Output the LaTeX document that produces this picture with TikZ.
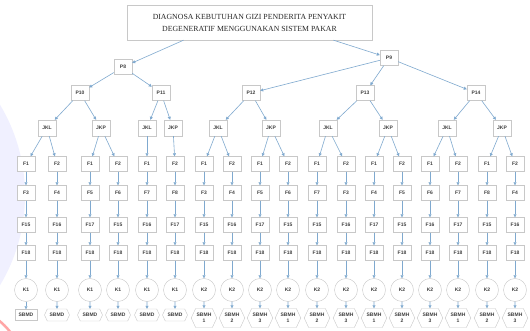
\documentclass[tikz,border=0pt]{standalone}
\usepackage{fontspec}
\setmainfont{Liberation Serif}
\newfontfamily\nodefont{Liberation Sans}
\usetikzlibrary{arrows.meta,shapes.symbols}
\definecolor{arrowblue}{HTML}{7FA9CF}
\definecolor{boxline}{HTML}{C8C8C8}
\begin{document}
\begin{tikzpicture}[x=1pt,y=-1pt,
  every node/.style={font=\nodefont\bfseries\fontsize{5}{5.6}\selectfont, text=black!75},
  box/.style={draw=boxline, fill=white, minimum width=18pt, minimum height=15pt, inner sep=1pt},
  kcirc/.style={draw=boxline, fill=white, circle, minimum size=23pt, inner sep=0pt},
  hexa/.style={draw=boxline, fill=white, signal, signal to=east and west, signal pointer angle=130,
    minimum width=25pt, minimum height=12pt, inner sep=1pt, align=center},
  link/.style={draw=arrowblue, line width=0.6pt, -{Triangle[length=3pt,width=3pt]}},
]
\useasboundingbox (0,0) rectangle (530,331);
\fill[white] (0,0) rectangle (530,331);
% faint watermark on the left edge
\begin{scope}
\clip (0,0) rectangle (530,331);
\fill[blue!6] (-150,195) circle (175pt);
\draw[red!35, line width=2.5pt] (-45,375) circle (70pt);
\end{scope}

% title
\node[draw=boxline, fill=white, minimum width=245pt, minimum height=35pt, align=center,
  font=\rmfamily\fontsize{7.8}{12}\selectfont, text=black!85] (title) at (249.5,22.5)
  {DIAGNOSA KEBUTUHAN GIZI PENDERITA PENYAKIT\\DEGENERATIF MENGGUNAKAN SISTEM PAKAR};

% upper levels
\node[box] (P8) at (123,67) {P8};
\node[box] (P9) at (389,58) {P9};
\node[box] (P10) at (80,93) {P10};
\node[box] (P11) at (161,93) {P11};
\node[box] (P12) at (251,93) {P12};
\node[box] (P13) at (365,93) {P13};
\node[box] (P14) at (476,93) {P14};

\draw[link] ([xshift=-66pt]title.south) -- (P8);
\draw[link] ([xshift=84pt]title.south) -- (P9);
\foreach \a/\b in {P8/P10,P8/P11,P9/P12,P9/P13,P9/P14}
  \draw[link] (\a) -- (\b);

% gender level
\foreach \n/\x/\t/\p in {j1/47/JKL/P10, j2/101/JKP/P10, j3/147/JKL/P11, j4/173/JKP/P11,
  j5/218/JKL/P12, j6/271/JKP/P12, j7/328/JKL/P13, j8/388/JKP/P13, j9/447/JKL/P14, j10/502/JKP/P14}{
  \node[box, minimum height=16pt] (\n) at (\x,128) {\t};
  \draw[link] (\p) -- (\n);
}

% rule chains
\foreach \i/\x/\fa/\fb/\fc/\k/\sb/\p in {
  1/26/F1/F3/F15/K1/SBMD/j1, 2/57/F2/F4/F16/K1/SBMD/j1,
  3/90/F1/F5/F17/K1/SBMD/j2, 4/118/F2/F6/F15/K1/SBMD/j2,
  5/147/F1/F7/F16/K1/SBMD/j3, 6/175/F2/F8/F17/K1/SBMD/j4,
  7/204/F1/F3/F15/K2/{SBMH\\1}/j5, 8/232/F2/F4/F16/K2/{SBMH\\2}/j5,
  9/260/F1/F5/F17/K2/{SBMH\\3}/j6, 10/288/F2/F6/F15/K2/{SBMH\\1}/j6,
  11/317/F1/F7/F15/K2/{SBMH\\2}/j7, 12/346/F2/F3/F16/K2/{SBMH\\3}/j7,
  13/374/F1/F4/F17/K2/{SBMH\\1}/j8, 14/402/F2/F5/F15/K2/{SBMH\\2}/j8,
  15/430/F1/F6/F16/K2/{SBMH\\3}/j9, 16/458/F2/F7/F17/K2/{SBMH\\1}/j9,
  17/487/F1/F8/F15/K2/{SBMH\\2}/j10, 18/515/F2/F4/F16/K2/{SBMH\\3}/j10}{
  \node[box] (a\i) at (\x,164) {\fa};
  \node[box] (b\i) at (\x,193) {\fb};
  \node[box] (d\i) at (\x,225) {\fc};
  \node[box] (e\i) at (\x,253) {F18};
  \node[kcirc] (k\i) at (\x,290) {\k};
  \ifnum\i=1
    \node[box, minimum width=22pt, minimum height=11pt] (s\i) at (\x,315) {\sb};
  \else\ifnum\i<7
    \node[hexa] (s\i) at (\x,315) {\sb};
  \else
    \node[hexa, minimum height=19pt] (s\i) at (\x,318) {\sb};
  \fi\fi
  \draw[link] (\p) -- (a\i);
  \draw[link] (a\i) -- (b\i);
  \draw[link] (b\i) -- (d\i);
  \draw[link] (d\i) -- (e\i);
  \draw[link] (e\i) -- (k\i);
  \draw[link] (k\i) -- (s\i);
}
\end{tikzpicture}
\end{document}
